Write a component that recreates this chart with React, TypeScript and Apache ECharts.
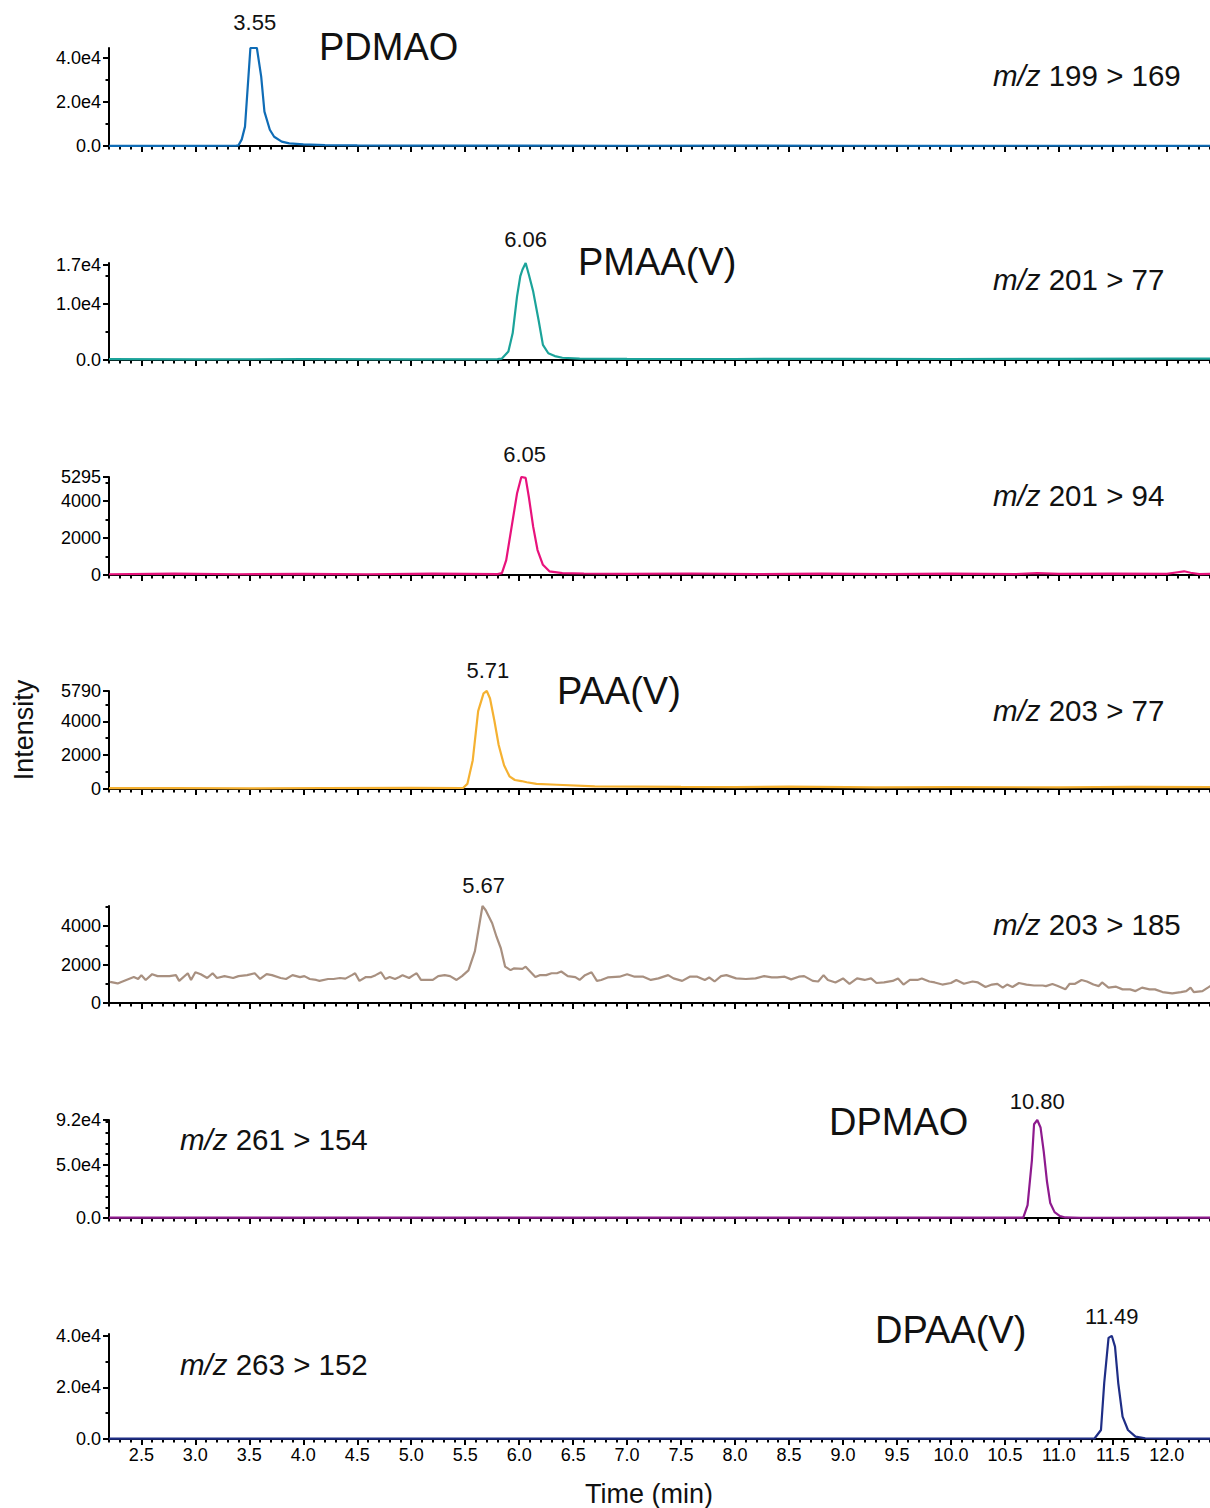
import React, { useEffect, useRef } from "react";
import * as echarts from "echarts";

const FONT = '"Liberation Sans", Arial, Helvetica, sans-serif';

// time axis
const X_MIN = 2.2;
const X_MAX = 12.4;
const xMajorTicks = [2.5, 3.0, 3.5, 4.0, 4.5, 5.0, 5.5, 6.0, 6.5, 7.0, 7.5, 8.0, 8.5, 9.0, 9.5, 10.0, 10.5, 11.0, 11.5, 12.0];

// ---- traces [time (min), intensity] ----
const pdmaoData = [
  [2.2, 100], [2.6, 120], [3.0, 100], [3.38, 150], [3.40, 300], [3.43, 3000], [3.46, 8800], [3.51, 44500], [3.57, 44500],
  [3.61, 31500], [3.64, 15600], [3.69, 7400], [3.73, 4200], [3.80, 2000], [3.87, 1200], [4.0, 700], [4.2, 400],
  [4.5, 250], [5.0, 200], [6.0, 150], [7.0, 120], [8.0, 150], [9.0, 120], [10.0, 100], [11.0, 120], [12.0, 100], [12.4, 120],
];

const pmaaData = [
  [2.2, 150], [3.0, 120], [4.0, 150], [5.0, 120], [5.80, 150], [5.84, 250], [5.90, 1500], [5.94, 4800], [5.98, 11300],
  [6.01, 14900], [6.03, 16100], [6.06, 17300], [6.09, 15200], [6.13, 12200], [6.18, 7100], [6.22, 2700], [6.27, 1200],
  [6.33, 700], [6.40, 400], [6.56, 250], [7.0, 200], [8.0, 180], [9.0, 200], [10.0, 180], [11.0, 200], [12.0, 250], [12.4, 250],
];

const mz201_94Data = [
  [2.2, 40], [2.8, 70], [3.4, 40], [4.0, 60], [4.6, 40], [5.2, 70], [5.8, 50], [5.84, 100], [5.88, 800], [5.93, 2600],
  [5.98, 4400], [6.02, 5295], [6.06, 5250], [6.09, 4200], [6.13, 2600], [6.17, 1350], [6.22, 550], [6.28, 200], [6.4, 100],
  [6.6, 80], [7.0, 60], [7.6, 80], [8.2, 50], [8.8, 70], [9.4, 50], [10.0, 70], [10.6, 50], [10.8, 100], [11.0, 60],
  [11.5, 70], [12.0, 60], [12.1, 150], [12.16, 200], [12.22, 120], [12.3, 50], [12.4, 60],
];

const paaData = [
  [2.2, 50], [2.8, 60], [3.5, 40], [4.2, 60], [5.0, 70], [5.48, 60], [5.52, 300], [5.57, 1700], [5.62, 4600], [5.67, 5650],
  [5.70, 5790], [5.73, 5350], [5.77, 4050], [5.81, 2600], [5.86, 1400], [5.91, 750], [5.96, 530], [6.02, 470], [6.07, 400],
  [6.16, 300], [6.35, 250], [6.7, 150], [7.5, 120], [8.0, 110], [8.5, 140], [9.3, 100], [10.0, 110], [11.0, 100], [11.7, 130], [12.4, 110],
];

const mz203_185Data = [
  [2.21, 1100], [2.28, 1020], [2.36, 1200], [2.43, 1350], [2.47, 1250], [2.50, 1450], [2.54, 1200], [2.60, 1500], [2.65, 1400],
  [2.76, 1400], [2.82, 1450], [2.85, 1150], [2.93, 1550], [2.96, 1200], [3.00, 1600], [3.05, 1500], [3.11, 1300], [3.16, 1550],
  [3.20, 1300], [3.27, 1400], [3.35, 1300], [3.40, 1400], [3.48, 1450], [3.55, 1550], [3.60, 1250], [3.66, 1500], [3.71, 1450],
  [3.79, 1300], [3.84, 1250], [3.90, 1450], [3.97, 1350], [4.01, 1400], [4.06, 1250], [4.12, 1200], [4.15, 1150], [4.23, 1250],
  [4.28, 1250], [4.34, 1300], [4.39, 1270], [4.45, 1450], [4.48, 1550], [4.52, 1150], [4.58, 1350], [4.63, 1350], [4.67, 1450],
  [4.72, 1600], [4.76, 1250], [4.80, 1350], [4.85, 1250], [4.89, 1350], [4.92, 1450], [4.98, 1300], [5.02, 1450], [5.05, 1550],
  [5.09, 1200], [5.14, 1200], [5.20, 1200], [5.25, 1400], [5.31, 1450], [5.36, 1400], [5.42, 1200], [5.47, 1400], [5.53, 1700],
  [5.59, 2700], [5.66, 5050], [5.69, 4830], [5.75, 4150], [5.79, 3450], [5.83, 2850], [5.87, 1890], [5.92, 1710], [5.95, 1800],
  [6.03, 1780], [6.06, 1890], [6.15, 1350], [6.19, 1450], [6.25, 1450], [6.30, 1550], [6.35, 1550], [6.39, 1640], [6.45, 1400],
  [6.52, 1350], [6.56, 1200], [6.61, 1450], [6.67, 1600], [6.72, 1150], [6.76, 1200], [6.82, 1330], [6.93, 1370], [7.00, 1500],
  [7.07, 1370], [7.15, 1370], [7.22, 1200], [7.29, 1280], [7.38, 1450], [7.43, 1280], [7.51, 1150], [7.58, 1370], [7.65, 1370],
  [7.72, 1200], [7.76, 1330], [7.81, 1120], [7.87, 1400], [7.92, 1450], [8.01, 1280], [8.10, 1250], [8.19, 1280], [8.27, 1400],
  [8.34, 1330], [8.39, 1330], [8.46, 1370], [8.52, 1230], [8.59, 1370], [8.64, 1400], [8.72, 1150], [8.77, 1120], [8.82, 1450],
  [8.86, 1200], [8.93, 1070], [9.00, 1280], [9.06, 1000], [9.13, 1280], [9.20, 1200], [9.26, 1280], [9.31, 1040], [9.38, 1070],
  [9.46, 1150], [9.51, 1280], [9.56, 960], [9.62, 1200], [9.69, 1200], [9.73, 1280], [9.80, 1120], [9.85, 1070], [9.92, 960],
  [10.00, 1040], [10.05, 1200], [10.12, 1000], [10.20, 1120], [10.25, 1070], [10.32, 830], [10.38, 960], [10.43, 1000],
  [10.48, 800], [10.52, 960], [10.57, 830], [10.63, 1040], [10.70, 960], [10.77, 910], [10.85, 910], [10.88, 880], [10.94, 990],
  [10.99, 880], [11.06, 710], [11.10, 1000], [11.15, 1000], [11.21, 1200], [11.26, 1120], [11.32, 960], [11.37, 880],
  [11.40, 1070], [11.46, 800], [11.53, 850], [11.59, 710], [11.66, 710], [11.71, 620], [11.77, 800], [11.84, 710], [11.89, 710],
  [11.96, 570], [12.05, 500], [12.13, 570], [12.18, 620], [12.22, 800], [12.25, 570], [12.33, 620], [12.38, 800], [12.41, 910],
];

const dpmaoData = [
  [2.2, 300], [4.0, 300], [6.0, 300], [8.0, 300], [10.0, 300], [10.67, 400], [10.71, 12000], [10.75, 54000], [10.77, 88000],
  [10.80, 92000], [10.83, 85000], [10.86, 62000], [10.89, 34000], [10.92, 14000], [10.96, 5500], [11.01, 1800], [11.06, 500],
  [11.2, 250], [12.4, 300],
];

const dpaaData = [
  [2.2, 150], [4.0, 150], [6.0, 150], [8.0, 150], [10.0, 150], [11.33, 200], [11.39, 3500], [11.42, 21700], [11.46, 39200],
  [11.49, 40000], [11.52, 35800], [11.55, 21700], [11.59, 8700], [11.64, 3500], [11.71, 900], [11.8, 300], [12.0, 150], [12.4, 150],
];

// ---- y-axis ticks and labels ----
const p1YTicks = [0, 20000, 40000];
const p1YLabels = ["0.0", "2.0e4", "4.0e4"];
const p1YMinor = [10000, 30000];
const p2YTicks = [0, 10000, 17000];
const p2YLabels = ["0.0", "1.0e4", "1.7e4"];
const p2YMinor = [5000, 15000];
const p3YTicks = [0, 2000, 4000, 5295];
const p3YLabels = ["0", "2000", "4000", "5295"];
const p3YMinor = [1000, 3000, 5000];
const p4YTicks = [0, 2000, 4000, 5790];
const p4YLabels = ["0", "2000", "4000", "5790"];
const p4YMinor = [1000, 3000, 5000];
const p5YTicks = [0, 2000, 4000];
const p5YLabels = ["0", "2000", "4000"];
const p5YMinor = [1000, 3000, 5000];
const p6YTicks = [0, 50000, 92000];
const p6YLabels = ["0.0", "5.0e4", "9.2e4"];
const p6YMinor = [10000, 20000, 30000, 40000, 60000, 70000, 80000, 90000];
const p7YTicks = [0, 20000, 40000];
const p7YLabels = ["0.0", "2.0e4", "4.0e4"];
const p7YMinor = [10000, 30000];

// ---- annotations ----
const peakTimes = [3.55, 6.06, 6.05, 5.71, 5.67, 10.80, 11.49];
const peakLabels = ["3.55", "6.06", "6.05", "5.71", "5.67", "10.80", "11.49"];
const transitions = ["199 > 169", "201 > 77", "201 > 94", "203 > 77", "203 > 185", "261 > 154", "263 > 152"];
const compoundNames = ["PDMAO", "PMAA(V)", "PAA(V)", "DPMAO", "DPAA(V)"];

const panels = [
  { data: pdmaoData, color: "#0f6cb6", top: 48, bottom: 146, max: 44500, yt: p1YTicks, yl: p1YLabels, ym: p1YMinor, lift: 14 },
  { data: pmaaData, color: "#1ba39a", top: 263, bottom: 360, max: 17300, yt: p2YTicks, yl: p2YLabels, ym: p2YMinor, lift: 12 },
  { data: mz201_94Data, color: "#e8127c", top: 477, bottom: 575, max: 5295, yt: p3YTicks, yl: p3YLabels, ym: p3YMinor, lift: 11 },
  { data: paaData, color: "#f5b131", top: 691, bottom: 789, max: 5790, yt: p4YTicks, yl: p4YLabels, ym: p4YMinor, lift: 9 },
  { data: mz203_185Data, color: "#a89080", top: 906, bottom: 1003, max: 5050, yt: p5YTicks, yl: p5YLabels, ym: p5YMinor, lift: 9 },
  { data: dpmaoData, color: "#8e1a8e", top: 1120, bottom: 1218, max: 92000, yt: p6YTicks, yl: p6YLabels, ym: p6YMinor, lift: 7 },
  { data: dpaaData, color: "#1f2e86", top: 1334, bottom: 1439, max: 40700, yt: p7YTicks, yl: p7YLabels, ym: p7YMinor, lift: 6 },
];

const transitionPos = [
  { x: 993, y: 75 }, { x: 993, y: 279 }, { x: 993, y: 495 }, { x: 993, y: 710 }, { x: 993, y: 924 },
  { x: 180, y: 1139 }, { x: 180, y: 1364 },
];
const namePos = [
  { x: 319, y: 47 }, { x: 578, y: 262 }, { x: 557, y: 691 }, { x: 829, y: 1122 }, { x: 875, y: 1330 },
];

function buildOption() {
  const xMinorTicks: number[] = [];
  for (let k = 22; k <= 124; k++) xMinorTicks.push(k / 10);
  const last = panels.length - 1;
  const black = "#000";
  const tickFont = 18;

  const grid = panels.map((p) => ({ left: 109, right: 0, top: p.top, height: p.bottom - p.top, containLabel: false }));

  const xAxis = panels.flatMap((p, i) => [
    {
      type: "value", gridIndex: i, min: X_MIN, max: X_MAX, position: "bottom",
      axisLine: { show: true, onZero: false, lineStyle: { color: black, width: 2 } },
      axisTick: { show: true, customValues: xMajorTicks, length: 6, lineStyle: { color: black, width: 2 } },
      axisLabel: {
        show: i === last, customValues: xMajorTicks, formatter: (v: number) => v.toFixed(1),
        fontSize: tickFont, color: black, fontFamily: FONT, margin: 7,
      },
      splitLine: { show: false },
    },
    {
      type: "value", gridIndex: i, min: X_MIN, max: X_MAX, position: "bottom",
      axisLine: { show: false, onZero: false },
      axisTick: { show: true, customValues: xMinorTicks, length: 3.5, lineStyle: { color: black, width: 2 } },
      axisLabel: { show: false },
      splitLine: { show: false },
    },
  ]);

  const yAxis = panels.flatMap((p, i) => [
    {
      type: "value", gridIndex: i, min: 0, max: p.max, position: "left",
      axisLine: { show: true, onZero: false, lineStyle: { color: black, width: 2 } },
      axisTick: { show: true, customValues: p.yt, length: 6, lineStyle: { color: black, width: 2 } },
      axisLabel: {
        show: true, customValues: p.yt,
        formatter: (v: number) => { const k = p.yt.indexOf(v); return k >= 0 ? p.yl[k] : ""; },
        fontSize: tickFont, color: black, fontFamily: FONT, margin: 8,
      },
      splitLine: { show: false },
    },
    {
      type: "value", gridIndex: i, min: 0, max: p.max, position: "left",
      axisLine: { show: false, onZero: false },
      axisTick: { show: true, customValues: p.ym, length: 3.5, lineStyle: { color: black, width: 2 } },
      axisLabel: { show: false },
      splitLine: { show: false },
    },
  ]);

  const series = panels.map((p, i) => ({
    type: "line", xAxisIndex: 2 * i, yAxisIndex: 2 * i, data: p.data, showSymbol: false, symbol: "none",
    lineStyle: { color: p.color, width: 2.2 }, itemStyle: { color: p.color }, silent: true, z: 3,
    markPoint: {
      silent: true, symbol: "circle", symbolSize: 1, itemStyle: { color: "rgba(0,0,0,0)" },
      label: { show: true, position: "top", distance: p.lift, formatter: peakLabels[i], fontSize: 22, color: "#111", fontFamily: FONT },
      data: [{ coord: [peakTimes[i], p.max] }],
    },
  }));

  const graphics: any[] = [];
  transitions.forEach((t, i) => {
    graphics.push({
      type: "text", x: transitionPos[i].x, y: transitionPos[i].y, silent: true,
      style: {
        text: "{i|m/z} " + t, fill: "#111", fontSize: 29.5, fontFamily: FONT, align: "left", verticalAlign: "middle",
        rich: { i: { fontStyle: "italic", fontSize: 29.5, fontFamily: FONT, fill: "#111" } },
      },
    });
  });
  compoundNames.forEach((n, i) => {
    graphics.push({
      type: "text", x: namePos[i].x, y: namePos[i].y, silent: true,
      style: { text: n, fill: "#111", fontSize: 38, fontFamily: FONT, align: "left", verticalAlign: "middle" },
    });
  });
  graphics.push({
    type: "text", x: 24, y: 730, rotation: Math.PI / 2, silent: true,
    style: { text: "Intensity", fill: "#111", fontSize: 27, fontFamily: FONT, align: "center", verticalAlign: "middle" },
  });
  graphics.push({
    type: "text", x: 649, y: 1494, silent: true,
    style: { text: "Time (min)", fill: "#111", fontSize: 27, fontFamily: FONT, align: "center", verticalAlign: "middle" },
  });

  return {
    animation: false,
    backgroundColor: "#fff",
    textStyle: { fontFamily: FONT },
    grid, xAxis, yAxis, series, graphic: graphics,
  };
}

export default function App() {
  const ref = useRef<HTMLDivElement>(null);
  useEffect(() => {
    if (!ref.current) return;
    const chart = echarts.init(ref.current, null, { renderer: "svg" });
    chart.setOption(buildOption() as any);
    return () => chart.dispose();
  }, []);
  return <div ref={ref} style={{ position: "absolute", left: 0, top: 0, width: 1210, height: 1508, background: "#fff" }} />;
}
